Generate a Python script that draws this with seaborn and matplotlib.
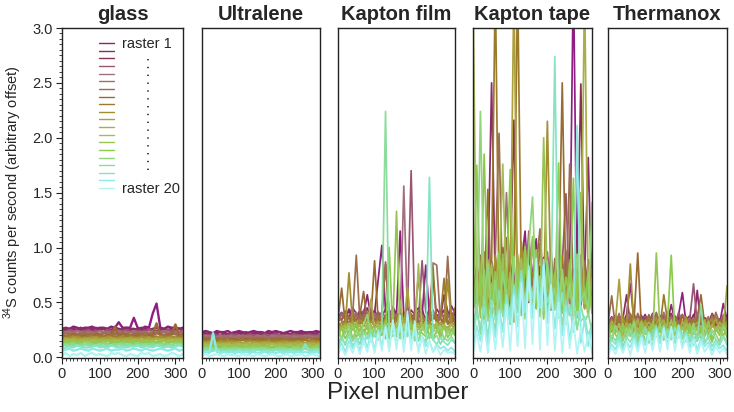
import numpy as np
import pandas as pd
import matplotlib
matplotlib.use("Agg")
import matplotlib.pyplot as plt
from matplotlib.lines import Line2D
from matplotlib.ticker import MultipleLocator, FormatStrFormatter
import seaborn as sns

sns.set_theme(style="white")
plt.rcParams['font.family'] = ['Liberation Sans', 'DejaVu Sans']
plt.rcParams['mathtext.fontset'] = 'custom'
plt.rcParams['mathtext.rm'] = 'Liberation Sans'

# ---------------- data ----------------
PANELS = ["glass", "Ultralene", "Kapton film", "Kapton tape", "Thermanox"]
RASTERS = [f"raster {i}" for i in range(1, 21)]
OFFSETS = [0.19, 0.18, 0.17, 0.16, 0.15, 0.14, 0.13, 0.12, 0.11, 0.10,
           0.09, 0.08, 0.07, 0.06, 0.05, 0.04, 0.03, 0.02, 0.01, 0.00]
X_TICKS = [0, 100, 200, 300]
Y_TICKS = [0.0, 0.5, 1.0, 1.5, 2.0, 2.5, 3.0]

# raw counts (x0.01), one string per raster, pixels 0..320 every 10
GLASS = [
    "7 8 7 9 8 7 8 8 9 7 8  8 7 9 8 13 8 8 8 17 8 7  9 8 21 30 8 7 9 8 8 7 8",
    "8 7 8 8 7 9 7 8 8 9 7  8 8 7 9 8 7 9 8 8 7 9  8 7 8 9 8 8 7 8 9 8 7",
    "7 9 8 7 8 8 9 7 8 7 8  9 7 8 8 7 9 8 7 8 9 8  7 8 8 7 9 8 8 7 8 9 8",
    "8 7 9 8 8 7 8 9 7 8 8  7 9 8 7 8 8 9 7 8 8 7  8 9 8 7 8 7 9 8 8 7 9",
    "7 8 8 7 9 8 7 8 8 7 9  8 8 7 8 9 7 8 8 9 7 8  8 7 9 8 7 9 8 7 8 8 7",
    "8 8 7 9 7 8 8 7 9 8 7  8 9 8 7 8 8 7 9 8 8 7  9 8 7 8 8 9 7 8 7 9 8",
    "7 9 8 8 7 8 9 7 8 8 7  9 8 7 8 8 9 8 7 8 7 9  8 8 7 9 8 7 8 9 8 7 8",
    "8 7 8 9 8 7 8 8 7 9 8  7 8 8 16 7 9 8 8 7 9 8  7 8 9 19 8 7 8 9 18 8 7",
    "7 8 9 7 8 8 7 9 8 7 8  8 7 9 8 8 7 8 9 7 8 8  9 7 8 8 7 9 8 8 7 8 9",
    "8 7 8 8 9 7 8 7 9 8 8  7 9 8 7 8 9 7 8 8 7 9  8 8 7 8 9 8 7 9 8 8 7",
    "7 8 7 9 8 8 7 8 8 9 7  8 8 9 7 8 8 7 9 8 8 7  8 9 7 8 8 7 9 8 7 8 8",
    "8 9 8 7 8 7 9 8 7 8 8  9 7 8 8 7 8 9 8 7 8 8  7 8 8 9 7 8 8 7 9 8 7",
    "7 8 8 9 7 8 8 7 9 8 7  8 8 7 9 8 7 8 8 9 7 8  8 7 8 7 9 8 8 9 7 8 8",
    "8 7 9 8 8 7 9 8 8 7 8  7 9 8 8 7 8 8 7 9 8 7  9 8 8 7 8 9 7 8 8 7 9",
    "7 8 8 7 8 9 7 8 7 9 8  8 7 8 9 8 7 9 8 8 7 8  8 9 7 8 8 7 8 9 8 7 8",
    "8 7 8 9 7 8 8 9 8 7 8  9 8 7 8 8 9 7 8 7 9 8  7 8 9 8 7 8 8 7 9 8 8",
    "7 9 7 8 8 7 9 8 7 8 9  7 8 8 7 9 8 8 9 7 8 8  9 7 8 8 9 7 8 8 7 9 7",
    "6 7 8 7 9 8 7 7 8 9 7  8 7 9 8 7 8 7 8 8 9 7  8 8 7 9 8 7 8 7 8 9 8",
    "5 6 7 5 6 7 6 5 7 6 5  6 7 5 6 6 7 5 6 7 6 5  7 6 5 6 7 6 5 6 7 5 6",
    "2 4 1 3 2 4 1 3 4 2 3  2 1 4 3 4 2 1 3 2 1 4  3 4 1 2 3 1 2 4 3 1 3",
]
ULTRALENE = [
    "4 5 4 3 5 4 4 5 3 4 5  4 3 4 5 4 4 3 5 4 5 4  3 4 5 4 4 5 3 4 4 5 4",
    "5 4 3 4 4 5 4 3 4 5 4  4 5 3 4 4 5 4 4 3 4 5  4 4 3 5 4 4 5 4 3 4 5",
    "4 3 5 4 4 3 5 4 4 4 3  5 4 4 5 3 4 4 5 4 4 3  5 4 4 4 5 3 4 4 5 4 3",
    "3 4 4 5 4 4 3 4 5 4 4  3 4 5 4 4 3 5 4 4 5 4  4 3 4 5 4 4 3 5 4 4 4",
    "4 5 4 4 3 5 4 4 4 3 5  4 4 4 3 5 4 4 3 5 4 4  4 5 4 3 4 4 5 4 4 3 5",
    "5 4 4 3 4 4 5 4 3 5 4  4 3 5 4 4 4 5 4 3 4 4  5 4 4 4 3 5 4 4 3 5 4",
    "4 4 5 4 4 3 4 5 4 4 3  5 4 4 4 5 3 4 4 5 4 3  4 4 5 3 4 4 4 5 4 4 3",
    "3 5 4 4 5 4 4 3 5 4 4  4 5 3 4 4 5 4 3 4 4 5  4 3 4 4 5 4 4 3 4 5 4",
    "4 4 3 5 4 4 5 4 4 3 4  5 4 4 3 5 4 4 4 3 5 4  4 5 4 4 3 4 5 4 4 4 3",
    "5 4 4 4 3 5 4 4 5 4 4  3 4 5 4 4 4 3 5 4 4 4  5 3 4 4 5 4 3 4 5 4 4",
    "4 3 5 4 4 4 3 5 4 4 5  4 4 3 5 4 4 5 4 4 3 4  4 5 4 3 5 4 4 4 4 3 5",
    "4 5 4 3 5 4 4 4 3 5 4  4 5 4 4 3 4 4 5 4 4 5  3 4 4 5 4 4 3 5 4 4 4",
    "3 4 4 5 4 3 5 4 4 4 5  3 4 4 4 5 4 3 4 5 4 4  4 4 5 3 4 5 4 4 3 4 5",
    "5 4 3 4 4 5 4 4 3 4 4  5 4 3 5 4 4 4 4 3 5 4  4 3 4 4 5 4 5 4 4 3 4",
    "4 4 5 4 3 4 4 5 4 4 3  4 5 4 4 4 3 5 4 4 4 3  5 4 4 4 3 4 4 5 4 4 4",
    "4 5 4 4 4 3 5 4 4 5 4  4 3 4 5 4 5 4 4 3 4 5  4 4 3 5 4 4 4 3 4 5 4",
    "3 4 4 5 4 4 4 3 5 4 4  4 5 4 3 4 4 5 3 4 4 4  5 4 4 4 3 4 5 4 4 4 3",
    "4 4 3 4 5 4 3 4 4 4 5  4 3 4 4 5 4 4 4 3 5 4  4 4 5 4 4 3 10 4 4 5 4",
    "3 4 3 21 4 3 4 3 4 3 4  3 4 3 4 3 3 4 3 4 3 4  3 3 4 3 4 3 4 3 3 4 3",
    "2 3 1 2 3 2 1 3 2 2 1  3 2 2 1 3 2 1 2 3 2 1  2 3 1 2 2 3 1 2 3 2 1",
]
KAPTON_FILM = [
    "18 22 15 25 20 14 24 19 26 16 21  52 83 23 17 27 20 96 18 24 15 22  26 19 65 21 16 25 20 23 17 28 21",
    "20 16 24 18 27 22 15 21 39 19 25  17 23 67 20 26 16 22 19 28 21 17  24 20 18 26 55 15 22 25 19 23 18",
    "15 23 19 26 17 21 25 18 22 28 16  24 20 27 19 23 17 25 21 18 26 22  19 27 16 24 20 22 18 40 25 17 23",
    "22 18 26 20 15 24 19 27 17 23 21  25 18 22 28 16 24 20 19 26 154 21  17 72 25 19 23 16 27 20 24 18 22",
    "17 25 21 16 28 19 23 18 26 20 24  16 27 21 19 25 22 17 141 23 18 26  20 24 17 22 28 19 25 21 16 24 20",
    "24 19 17 23 21 27 16 25 20 18 26  22 19 24 17 28 20 23 18 25 21 16  27 22 19 24 72 70 21 17 25 20 23",
    "19 27 22 18 25 80 20 24 17 26 21  18 23 74 25 19 22 27 16 24 20 26  18 23 21 17 25 20 22 19 79 24 18",
    "23 51 18 25 20 22 27 48 19 24 76  21 17 26 22 19 25 18 23 20 27 21  64 18 24 20 26 22 17 25 21 19 23",
    "21 17 24 19 26 22 18 25 20 23 17  27 21 19 24 18 26 22 20 25 17 23  19 26 22 18 71 20 24 61 19 22 34",
    "17 22 19 67 21 18 24 20 16 23 19  22 18 25 20 17 23 19 21 18 24 20  17 22 19 23 18 21 20 16 61 22 19",
    "20 16 22 18 24 19 15 21 23 17 20  24 18 21 16 22 19 23 17 55 20 18  22 16 24 19 21 17 23 20 18 22 16",
    "16 21 18 23 17 20 22 16 19 45 18  21 17 23 19 16 22 18 20 24 17 21  19 23 16 20 18 22 17 21 19 16 20",
    "12 20 15 24 10 18 22 14 26 11 19  23 13 21 17 25 12 45 20 16 24 11  78 18 22 13 19 25 14 21 17 23 15",
    "18 11 23 14 20 26 12 19 15 24 13  21 16 27 11 22 127 14 25 18 12 23  15 20 26 13 18 22 11 24 16 20 14",
    "14 22 12 19 25 13 21 16 23 11 20  15 26 12 95 18 24 13 21 16 27 12  22 17 14 25 11 20 18 23 13 19 21",
    "21 13 18 24 11 20 15 26 35 17 22  12 19 25 14 23 16 21 13 27 15 20  11 24 17 13 22 18 25 12 20 16 23",
    "10 16 8 19 12 15 9 20 14 22 17  13 24 221 18 25 20 14 27 16 21 12  19 15 11 18 13 17 9 15 12 16 10",
    "8 14 11 17 9 13 16 10 18 12 20  15 23 19 26 17 22 28 18 24 15 20  13 17 11 162 14 10 16 12 9 14 11",
    "6 12 4 14 7 16 5 18 8 20 6  24 9 28 7 32 10 30 8 27 11 22  6 18 9 14 4 11 7 9 5 8 4",
    "3 9 2 11 4 13 3 15 5 18 4  22 6 27 5 34 7 38 5 42 6 33  4 19 3 15 5 10 2 7 4 5 3",
]
KAPTON_TAPE = [
    "35 62 28 71 40 55 30 68 80 45 25  58 33 66 96 38 52 27 64 42 70 31  57 36 49 29 61 330 44 53 26 47 38",
    "42 30 65 37 58 232 44 26 69 35 60  28 54 41 73 32 57 90 39 63 29 51  36 67 24 55 40 62 31 48 57 164 33",
    "27 56 39 64 31 70 45 29 58 36 66  199 34 61 43 85 30 59 38 74 33 62  45 28 67 41 53 35 72 232 40 58 30",
    "50 33 68 41 59 27 75 38 62 30 71  44 55 32 88 40 63 29 57 46 80 35  60 27 69 133 38 64 31 57 42 73 36",
    "38 64 29 57 46 70 33 61 40 135 52  31 76 43 58 36 92 48 27 65 39 71  34 56 45 82 30 59 41 66 35 52 44",
    "61 36 73 44 52 31 66 39 84 47 58  35 70 28 63 94 41 77 33 59 45 68  37 62 29 71 43 56 34 79 40 61 48",
    "44 72 35 63 51 28 80 191 39 67 46  58 32 75 43 102 37 69 104 49 61 30  77 41 55 36 163 47 71 33 64 42 57",
    "56 38 81 47 141 34 69 52 88 40 73  45 62 36 90 55 42 78 31 66 48 85  39 58 238 44 71 35 63 50 76 37 60",
    "33 67 49 85 38 74 330 45 61 98 36  70 330 54 79 41 66 35 93 50 72 43  64 37 81 46 59 32 77 55 68 40 84",
    "48 31 76 42 65 29 83 51 37 70 44  59 33 95 47 62 28 74 52 39 205 45  68 34 57 41 79 30 63 46 54 36 71",
    "36 62 45 71 30 58 49 87 41 66 52  330 39 73 34 61 47 80 29 68 43 56  38 75 46 31 64 53 40 70 35 59 42",
    "59 42 68 33 81 47 55 36 74 40 63  29 86 51 44 67 38 72 45 58 31 77  49 35 66 42 71 30 57 48 330 39 64",
    "330 35 64 27 52 78 31 60 169 44 70  25 57 83 38 66 29 91 46 55 33 74  40 62 41 36 58 28 69 47 53 30 65",
    "45 68 30 179 54 37 72 42 88 33 61  48 76 35 95 52 40 84 31 194 57 39  71 46 63 29 80 50 38 144 43 66 34",
    "38 170 51 74 29 62 45 90 36 58 166  41 69 33 82 47 105 39 64 30 77 52  43 172 35 68 49 158 31 60 44 73 37",
    "57 33 220 46 81 38 66 29 74 52 35  88 43 60 31 97 142 48 70 37 84 45  59 32 76 41 63 36 90 47 55 39 137",
    "24 45 18 52 30 39 21 58 34 47 27  63 38 71 42 80 36 67 49 75 31 56  40 61 26 48 35 53 22 44 29 37 20",
    "19 37 26 44 15 50 32 41 23 55 36  62 45 77 39 69 52 84 43 72 48 60  272 34 57 28 46 21 40 31 35 17 29",
    "8 28 14 33 10 38 17 42 22 49 31  58 27 70 40 82 35 76 44 88 30 64  25 55 19 46 15 37 210 12 33 9 26",
    "3 22 5 30 4 35 7 40 9 48 6  56 10 68 8 79 12 90 7 84 11 66  6 50 4 41 8 33 3 27 5 21 4",
]
THERMANOX = [
    "12 18 9 16 11 20 48 14 19 10 17  13 21 8 15 19 11 18 14 20 40 12  16 9 19 13 17 10 21 14 11 30 15",
    "15 10 19 13 17 9 21 12 16 20 11  18 14 22 10 17 13 30 15 19 11 16  20 12 43 9 18 14 21 11 17 13 19",
    "17 13 21 10 18 40 14 20 11 16 22  12 19 15 21 9 17 23 13 18 10 20  14 22 12 19 16 11 20 15 18 12 21",
    "14 20 12 22 16 11 19 24 13 17 21  15 23 10 18 20 14 22 12 25 16 11  19 51 14 21 17 12 23 15 19 13 18",
    "19 15 23 12 20 17 25 13 21 16 11  22 18 24 14 19 26 13 20 17 23 15  12 21 18 25 14 20 16 22 13 24 17",
    "13 22 17 26 11 19 14 23 18 21 15  25 12 20 16 27 13 22 19 14 24 18  21 15 26 12 19 23 14 20 17 11 22",
    "18 43 14 21 25 16 22 12 27 19 15  23 17 28 13 20 24 16 21 18 26 14  22 19 13 25 17 21 15 28 18 23 16",
    "15 21 26 13 19 24 17 22 83 14 20  26 16 23 18 12 25 19 22 15 27 17  21 13 24 45 18 14 22 20 16 25 19",
    "22 17 13 24 20 15 28 18 12 23 19  25 14 21 17 46 22 13 27 18 20 16  15 24 19 12 23 17 26 14 21 18 22",
    "16 22 18 13 25 19 75 14 21 17 24  12 20 26 15 22 18 13 23 19 16 27  14 21 17 24 12 20 25 15 19 22 14",
    "20 14 24 62 17 21 13 26 18 15 23  19 12 22 27 16 20 24 14 21 17 25  13 19 23 16 22 12 20 26 15 18 24",
    "13 25 17 21 12 23 19 16 27 14 20  24 18 13 22 26 15 21 19 12 25 17  23 14 20 18 26 13 22 16 24 19 57",
    "10 21 15 24 8 19 13 26 11 22 16  12 25 18 9 23 14 27 17 20 11 24  15 19 8 22 13 26 10 18 21 12 23",
    "18 9 22 14 25 11 20 16 12 27 15  21 10 89 17 24 12 19 26 13 22 9  23 15 20 11 25 17 8 21 14 24 16",
    "12 24 16 10 21 17 26 13 19 23 9  18 25 14 20 11 27 88 15 22 12 19  24 10 17 21 14 26 11 20 16 23 13",
    "20 13 25 17 11 23 15 28 10 19 24  14 21 16 26 12 22 18 9 25 15 20  13 27 11 18 23 14 21 17 10 24 19",
    "9 17 12 20 7 15 22 11 18 14 23  10 19 26 13 21 16 24 12 20 15 18  11 22 14 45 10 17 21 13 8 16 12",
    "7 14 10 18 6 16 12 20 9 17 13  21 15 24 11 19 22 14 25 16 20 12  18 9 15 19 11 16 8 14 10 17 9",
    "4 11 6 15 5 13 8 17 7 19 10  22 9 25 12 27 11 24 14 28 10 21  8 18 6 16 9 13 5 12 7 10 5",
    "2 9 3 12 4 14 2 16 5 18 4  21 6 24 5 26 7 28 6 23 8 19  4 16 3 14 5 11 2 10 4 8 3",
]
PANEL_DATA = [GLASS, ULTRALENE, KAPTON_FILM, KAPTON_TAPE, THERMANOX]

# ---------------- style ----------------
COLORS = ["#8e1f80", "#8a2a6c", "#86305c", "#9a5670", "#a4707e",
          "#a06e66", "#9c6e50", "#9a6a34", "#9c7a2c", "#a48e30",
          "#aca03c", "#a8ae48", "#a4bc58", "#96c452", "#8ccc4c",
          "#92d47c", "#8cdc9c", "#86e4c2", "#8ceae4", "#b0f4f4"]
LINE_WIDTHS = [1.7, 1.7, 1.25, 1.25, 1.25]

W, H = 734, 412
fig = plt.figure(figsize=(W / 100, H / 100), dpi=100)
lefts = [62, 202, 338, 473, 608]
widths = [121, 118, 117, 119, 119]
ax_top, ax_bot = 28, 358

for k, (name, data) in enumerate(zip(PANELS, PANEL_DATA)):
    ax = fig.add_axes([lefts[k] / W, 1 - ax_bot / H, widths[k] / W, (ax_bot - ax_top) / H])
    frames = []
    for r, s in enumerate(data):
        raw = np.array(s.split(), dtype=float) / 100.0
        px = np.linspace(0, 320, len(raw))
        frames.append(pd.DataFrame({"pixel": px, "counts": raw + OFFSETS[r],
                                    "raster": RASTERS[r]}))
    df = pd.concat(frames, ignore_index=True)
    sns.lineplot(data=df, x="pixel", y="counts", hue="raster", hue_order=RASTERS,
                 palette=COLORS, estimator=None, sort=False, legend=False,
                 linewidth=LINE_WIDTHS[k], ax=ax)
    ax.set_xlim(0, 320)
    ax.set_ylim(-0.006, 3.0)
    ax.set_xlabel("")
    ax.set_ylabel("")
    ax.set_title(name, fontsize=14.5, fontweight="bold", pad=6)
    ax.set_xticks(X_TICKS)
    ax.xaxis.set_minor_locator(MultipleLocator(10))
    ax.tick_params(axis="x", which="major", bottom=True, direction="out",
                   length=4, width=0.8, labelsize=10.5, pad=2.5, color="#222222")
    ax.tick_params(axis="x", which="minor", bottom=True, direction="out",
                   length=2, width=0.6, color="#222222")
    if k == 0:
        ax.set_yticks(Y_TICKS)
        ax.yaxis.set_major_formatter(FormatStrFormatter("%.1f"))
        ax.yaxis.set_minor_locator(MultipleLocator(0.05))
        ax.tick_params(axis="y", which="major", left=True, direction="out",
                       length=4, width=0.8, labelsize=10.5, pad=2.5, color="#222222")
        ax.tick_params(axis="y", which="minor", left=True, direction="out",
                       length=2, width=0.6, color="#222222")
    else:
        ax.set_yticks([])
    for sp in ax.spines.values():
        sp.set_visible(True)
        sp.set_color("#222222")
        sp.set_linewidth(1.0)

    if k == 0:
        handles = [Line2D([], [], color=c, lw=1.0) for c in COLORS]
        labels = [RASTERS[0]] + [""] * 18 + [RASTERS[-1]]
        ax.legend(handles, labels, loc="upper left", bbox_to_anchor=(0.305, 0.972),
                  frameon=False, fontsize=10.5, handlelength=1.05,
                  handletextpad=0.5, labelspacing=-0.437, borderpad=0,
                  borderaxespad=0)
        ax.plot([0.711, 0.711], [0.905, 0.565], transform=ax.transAxes,
                color="#222222", lw=1.2, linestyle=(0, (0.8, 3.9)))

fig.text(0.017, 0.533, r"$^{\mathrm{34}}$S counts per second (arbitrary offset)",
         rotation=90, ha="center", va="center", fontsize=10.5)
fig.text(398 / W, 1 - 393 / H, "Pixel number", ha="center", va="center", fontsize=17.5)

fig.savefig("out.png", dpi=100)
